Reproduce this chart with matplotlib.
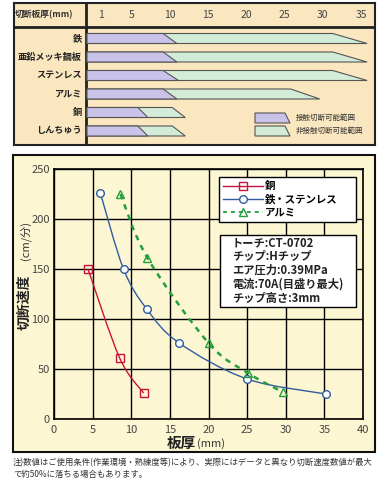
import numpy as np
import matplotlib
matplotlib.use("Agg")
import matplotlib.pyplot as plt
from matplotlib.patches import Polygon, Rectangle, PathPatch
from matplotlib.path import Path
from matplotlib.lines import Line2D

plt.rcParams['font.family'] = ['Noto Sans CJK JP', 'DejaVu Sans']

# ---------------- data: top table ----------------
materials = ['鉄', '亜鉛メッキ鋼板', 'ステンレス', 'アルミ', '銅', 'しんちゅう']
contact_top = [9.1, 9.1, 9.1, 9.1, 5.8, 5.8]        # contact range end (upper edge), mm
contact_bot = [10.9, 10.9, 11.1, 10.9, 7.1, 7.1]    # contact range end (lower edge), mm
noncontact_top = [31.3, 31.3, 31.3, 25.8, 10.3, 10.3]
noncontact_bot = [35.8, 35.8, 35.8, 29.6, 12.0, 12.0]
header_ticks = [1, 5, 10, 15, 20, 25, 30, 35]
header_label = '切断板厚(mm)'
range_labels = ['接触切断可能範囲', '非接触切断可能範囲']

# ---------------- data: speed chart ----------------
cu_x = [4.4, 8.5, 11.6]
cu_y = [150, 61, 26]
fe_x = [6.0, 9.0, 12.0, 16.2, 25.0, 35.2]
fe_y = [226, 150, 110, 76, 40, 25]
al_x = [8.6, 12.1, 20.0, 25.1, 29.6]
al_y = [225, 161, 76, 46, 27]
series_names = ['銅', '鉄・ステンレス', 'アルミ']
info_lines = ['トーチ:CT-0702', 'チップ:Hチップ', 'エア圧力:0.39MPa',
              '電流:70A(目盛り最大)', 'チップ高さ:3mm']
note_lines = ['注)数値はご使用条件(作業環境・熟練度等)により、実際にはデータと異なり切断速度数値が最大',
              'で約50%に落ちる場合もあります。']

W, H = 392, 484
fig = plt.figure(figsize=(W / 100, H / 100), dpi=100)
fig.patch.set_facecolor('white')

def fx(px):
    return px / W

def fy(py):
    return 1 - py / H

PURPLE = '#c9c3ea'
GREEN = '#d3ecd8'
TOPBG = '#fae6bf'
BOTBG = '#fdf6d3'
EDGE = '#555555'

# ================= top table =================
px0, px_per_mm = 93.6, 7.64
def mm(px):
    return (px - px0) / px_per_mm

ax0 = fig.add_axes([fx(14), fy(145), (375 - 14) / W, (145 - 3) / H])
ax0.set_xlim(mm(14), mm(375))
ax0.set_ylim(145, 3)
ax0.set_facecolor(TOPBG)
ax0.set_xticks([]); ax0.set_yticks([])
for s in ax0.spines.values():
    s.set_linewidth(1.5); s.set_color('#222222')
ax0.plot([mm(14), mm(375)], [27, 27], color='#222222', lw=2, solid_capstyle='butt')
ax0.plot([mm(86), mm(86)], [3, 145], color='#222222', lw=2, solid_capstyle='butt')

ax0.text(mm(44), 15, header_label, ha='center', va='center', fontsize=6.3,
         fontweight='bold', color='#333333')
for t in header_ticks:
    ax0.text(t, 15, str(t), ha='center', va='center', fontsize=7.5, color='#444444')

start = mm(87)
for i, name in enumerate(materials):
    c = 38.5 + 18.5 * i
    top, bot = c - 5, c + 5
    ax0.add_patch(Polygon([(start, top), (noncontact_top[i], top), (noncontact_bot[i], bot), (start, bot)],
                          closed=True, fc=GREEN, ec=EDGE, lw=0.8, zorder=2))
    ax0.add_patch(Polygon([(start, top), (contact_top[i], top), (contact_bot[i], bot), (start, bot)],
                          closed=True, fc=PURPLE, ec=EDGE, lw=0.8, zorder=3))
    ax0.text(mm(82), c, name, ha='right', va='center', fontsize=6.6, fontweight='bold',
             color='#222222')

for j, (col, lab) in enumerate(zip([PURPLE, GREEN], range_labels)):
    top = 113 + 13 * j
    bot = top + 10
    ax0.add_patch(Polygon([(mm(255), top), (mm(285), top), (mm(290), bot), (mm(255), bot)],
                          closed=True, fc=col, ec=EDGE, lw=0.8, zorder=3))
    ax0.text(mm(296), (top + bot) / 2, lab, ha='left', va='center', fontsize=5.4,
             color='#333333')

# ================= speed chart =================
fig.patches.append(Rectangle((fx(13), fy(452)), (375 - 13) / W, (452 - 155) / H,
                             transform=fig.transFigure, fc=BOTBG, ec='#111111', lw=1.5, zorder=-1))

ax = fig.add_axes([fx(54), fy(419), (363 - 54) / W, (419 - 169) / H])
ax.set_facecolor('none')
ax.set_xlim(0, 40)
ax.set_ylim(0, 250)
ax.set_xticks(np.arange(0, 41, 5))
ax.set_yticks(np.arange(0, 251, 50))
ax.grid(True, color='black', lw=1.0)
ax.set_axisbelow(True)
ax.tick_params(length=0, labelsize=8, labelcolor='#444444')
ax.tick_params(axis='x', pad=4)
ax.tick_params(axis='y', pad=3)
for s in ax.spines.values():
    s.set_linewidth(1.2); s.set_color('black')

def smooth_path(xs, ys):
    pts = np.column_stack([xs, ys]).astype(float)
    n = len(pts)
    verts = [pts[0]]
    codes = [Path.MOVETO]
    for i in range(n - 1):
        p0 = pts[i - 1] if i > 0 else pts[i]
        p1 = pts[i]
        p2 = pts[i + 1]
        p3 = pts[i + 2] if i + 2 < n else pts[i + 1]
        verts += [p1 + (p2 - p0) / 6, p2 - (p3 - p1) / 6, p2]
        codes += [Path.CURVE4] * 3
    return Path(verts, codes)

RED = '#c8143c'
BLUE = '#2f5d9e'
GRN = '#23a03c'

series = [
    (cu_x, cu_y, RED, 's', '-', 1.0, 'none'),
    (fe_x, fe_y, BLUE, 'o', '-', 1.0, 'white'),
    (al_x, al_y, GRN, '^', (0, (2.2, 2.2)), 1.8, 'none'),
]
handles = []
for (xs, ys, col, mk, ls, lw, mfc), name in zip(series, series_names):
    ax.add_patch(PathPatch(smooth_path(xs, ys), fill=False, ec=col, lw=lw, ls=ls, zorder=3))
    ax.plot(xs, ys, ls='none', marker=mk, ms=5.5, mfc=mfc, mec=col, mew=1.0, zorder=4)
    handles.append(Line2D([], [], color=col, ls=ls, lw=lw if lw < 1.5 else 1.3, marker=mk,
                          ms=5.5, mfc=mfc, mec=col, mew=1.0))

leg = ax.legend(handles, series_names, loc='upper left',
                bbox_to_anchor=((219 - 54) / 309, (419 - 222) / 250, (356 - 219) / 309, (222 - 177) / 250),
                mode='expand', borderaxespad=0, fancybox=False, framealpha=1,
                edgecolor='black', handlelength=3.8, handletextpad=0.2, labelspacing=0.3,
                borderpad=0.4, prop={'size': 7.5, 'weight': 'bold'})
leg.get_frame().set_linewidth(1.0)
leg.set_zorder(6)

ax.add_patch(Rectangle(((220 - 54) / 309, (419 - 307) / 250), (356 - 220) / 309, (307 - 235) / 250,
                       transform=ax.transAxes, fc='white', ec='black', lw=1.0, zorder=6))
for k, line in enumerate(info_lines):
    ypx = 243 + 13.8 * k
    ax.text((232 - 54) / 309, (419 - ypx) / 250, line, transform=ax.transAxes,
            ha='left', va='center', fontsize=8.1, fontweight='bold', color='#222222', zorder=7)

# axis labels
fig.text(fx(25), fy(302), '切断速度', rotation=90, ha='center', va='center',
         fontsize=10, fontweight='bold', color='#222222')
fig.text(fx(25.5), fy(241), '(cm/分)', rotation=90, ha='center', va='center',
         fontsize=8, color='#333333')
fig.text(fx(181), fy(443), '板厚', ha='center', va='center', fontsize=10.5,
         fontweight='bold', color='#222222')
fig.text(fx(197), fy(444), '(mm)', ha='left', va='center', fontsize=8, color='#333333')

# note
fig.text(fx(13), fy(463), note_lines[0], ha='left', va='center', fontsize=6.0, color='#333333')
fig.text(fx(13), fy(474), note_lines[1], ha='left', va='center', fontsize=6.0, color='#333333')

fig.savefig('out.png', dpi=100)
